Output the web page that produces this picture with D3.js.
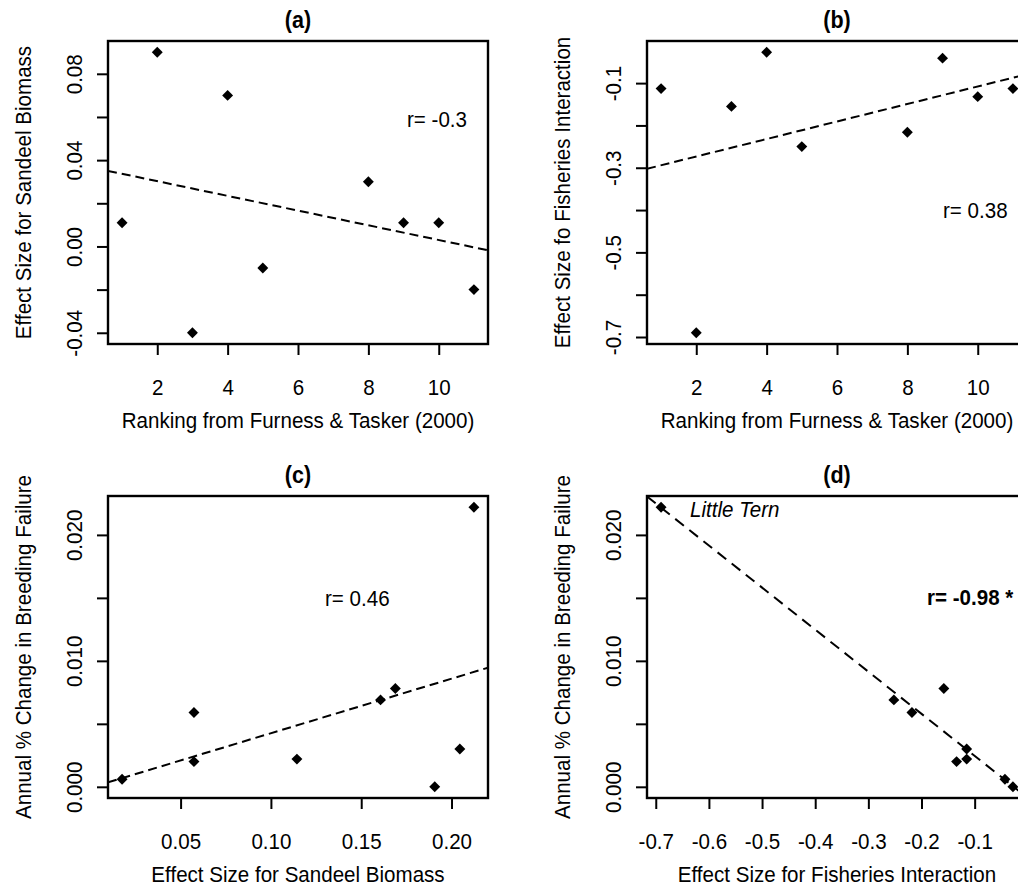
<!DOCTYPE html>
<html><head><meta charset="utf-8">
<script src="https://cdn.jsdelivr.net/npm/d3@7"></script>
<style>
html,body{margin:0;padding:0;background:#fff;}
svg{display:block;}
text{font-family:"Liberation Sans",Arial,Helvetica,sans-serif;fill:#000;}
</style></head><body>
<svg id="chart" width="1018" height="888"></svg>
<script>
// ---------- data ----------
const rankA = [1, 2, 3, 4, 5, 8, 9, 10, 11];
const sandeelA = [0.011, 0.09, -0.04, 0.07, -0.01, 0.03, 0.011, 0.011, -0.02];
const rankB = [1, 2, 3, 4, 5, 8, 9, 10, 11];
const fisheriesB = [-0.113, -0.690, -0.155, -0.027, -0.250, -0.216, -0.041, -0.132, -0.113];
const sandeelC = [0.0176, 0.0574, 0.0574, 0.1144, 0.1607, 0.1689, 0.1907, 0.2046, 0.2124];
const breedC = [0.0006, 0.0059, 0.0020, 0.0022, 0.0069, 0.0078, 0.0000, 0.0030, 0.0222];
const fisheriesD = [-0.690, -0.252, -0.218, -0.158, -0.134, -0.115, -0.115, -0.043, -0.028];
const breedD = [0.0222, 0.0069, 0.0059, 0.0078, 0.0020, 0.0030, 0.0022, 0.0006, 0.0000];

const panelTitles = ["(a)", "(b)", "(c)", "(d)"];
const xTitles = ["Ranking from Furness & Tasker (2000)", "Ranking from Furness & Tasker (2000)",
                 "Effect Size for Sandeel Biomass", "Effect Size for Fisheries Interaction"];
const yTitles = ["Effect Size for Sandeel Biomass", "Effect Size fo Fisheries Interaction",
                 "Annual % Change in Breeding Failure", "Annual % Change in Breeding Failure"];
const rLabels = ["r= -0.3", "r= 0.38", "r= 0.46", "r= -0.98 *"];
const pointLabel = "Little Tern";

const rankTicks = [2, 4, 6, 8, 10];
const sandeelATicks = [-0.04, -0.02, 0, 0.02, 0.04, 0.06, 0.08];
const sandeelALabels = [-0.04, 0, 0.04, 0.08];
const fisheriesYTicks = [-0.7, -0.6, -0.5, -0.4, -0.3, -0.2, -0.1];
const fisheriesYLabels = [-0.7, -0.5, -0.3, -0.1];
const sandeelCTicks = [0.05, 0.10, 0.15, 0.20];
const breedTicks = [0, 0.005, 0.010, 0.015, 0.020];
const breedLabels = [0, 0.010, 0.020];
const fisheriesXTicks = [-0.7, -0.6, -0.5, -0.4, -0.3, -0.2, -0.1];

// ---------- helpers ----------
const FS = 22;       // font size
const SX = 0.935;    // horizontal glyph squeeze (narrow face of original)
const svg = d3.select("#chart");
const fmt = p => d => d3.format(p)(d).replace("\u2212", "-");
const pad = arr => { const [lo, hi] = d3.extent(arr); const r = hi - lo; return [lo - 0.04 * r, hi + 0.04 * r]; };
const has = (list, v) => list.some(l => Math.abs(l - v) < 1e-9);

function label(sel, x, y, txt, opts = {}) {
  const t = sel.append("text")
    .attr("transform", `translate(${x},${y})${opts.rotate ? " rotate(-90)" : ""} scale(${SX},1)`)
    .attr("font-size", opts.size || FS)
    .attr("text-anchor", opts.anchor || "start")
    .text(txt);
  if (opts.bold) t.attr("font-weight", "bold");
  if (opts.italic) t.attr("font-style", "italic");
  return t;
}

function fit(xs, ys) {
  const mx = d3.mean(xs), my = d3.mean(ys);
  let sxy = 0, sxx = 0;
  xs.forEach((x, i) => { sxy += (x - mx) * (ys[i] - my); sxx += (x - mx) * (x - mx); });
  const b = sxy / sxx;
  return x => my + b * (x - mx);
}

function panel(o) {
  const {left, top, w, h, xs, ys, xTicks, xFmt, yTicks, yLabels, yFmt, idx, dash} = o;
  const x = d3.scaleLinear().domain(pad(xs)).range([left, left + w]);
  const y = d3.scaleLinear().domain(pad(ys)).range([top + h, top]);
  const g = svg.append("g");

  const clipId = "clip" + idx;
  svg.append("clipPath").attr("id", clipId)
    .append("rect").attr("x", left).attr("y", top).attr("width", w).attr("height", h);

  // x axis
  const xa = g.append("g").attr("transform", `translate(0,${top + h})`)
    .call(d3.axisBottom(x).tickValues(xTicks).tickFormat(xFmt).tickSize(11));
  xa.select(".domain").remove();
  xa.selectAll(".tick line").attr("stroke", "#000").attr("stroke-width", 2);
  xa.selectAll(".tick text").attr("x", 0).attr("y", 0).attr("dy", null)
    .attr("transform", `translate(0,51) scale(${SX},1)`)
    .attr("font-size", FS).attr("font-family", null).attr("fill", "#000");

  // y axis
  const ya = g.append("g").attr("transform", `translate(${left},0)`)
    .call(d3.axisLeft(y).tickValues(yTicks)
      .tickFormat(d => has(yLabels, d) ? yFmt(d) : "").tickSize(11));
  ya.select(".domain").remove();
  ya.selectAll(".tick line").attr("stroke", "#000").attr("stroke-width", 2);
  ya.selectAll(".tick text").attr("x", 0).attr("y", 0).attr("dy", null)
    .attr("text-anchor", "middle").attr("transform", `translate(-26,0) rotate(-90) scale(${SX},1)`)
    .attr("font-size", FS).attr("font-family", null).attr("fill", "#000");

  // regression line
  const f = fit(xs, ys);
  const [d0, d1] = x.domain();
  g.append("line").attr("clip-path", `url(#${clipId})`)
    .attr("x1", x(d0)).attr("y1", y(f(d0))).attr("x2", x(d1)).attr("y2", y(f(d1)))
    .attr("stroke", "#000").attr("stroke-width", 2).attr("stroke-dasharray", dash);

  // points
  const sym = d3.symbol().type(d3.symbolDiamond2).size(76);
  g.selectAll("path.pt").data(xs.map((v, i) => [v, ys[i]])).join("path")
    .attr("class", "pt").attr("d", sym)
    .attr("transform", d => `translate(${x(d[0])},${y(d[1])})`)
    .attr("fill", "#000");

  // box
  g.append("rect").attr("x", left).attr("y", top).attr("width", w).attr("height", h)
    .attr("fill", "none").attr("stroke", "#000").attr("stroke-width", 2.4);

  // titles
  label(g, left + w / 2, top - 13, panelTitles[idx], {anchor: "middle", bold: true, size: 23});
  label(g, left + w / 2, top + h + 84, xTitles[idx], {anchor: "middle"});
  label(g, left - 77, top + h / 2, yTitles[idx], {anchor: "middle", rotate: true});
  return {g, x, y};
}

const W = 380, H = 303;
const pa = panel({left: 108, top: 41, w: W, h: H, xs: rankA, ys: sandeelA, xTicks: rankTicks, xFmt: d3.format("d"),
  yTicks: sandeelATicks, yLabels: sandeelALabels, yFmt: fmt(".2f"), idx: 0, dash: "9,5"});
const pb = panel({left: 647, top: 41, w: W, h: H, xs: rankB, ys: fisheriesB, xTicks: rankTicks, xFmt: d3.format("d"),
  yTicks: fisheriesYTicks, yLabels: fisheriesYLabels, yFmt: fmt(".1f"), idx: 1, dash: "9,5"});
const pc = panel({left: 108, top: 496, w: W, h: 302, xs: sandeelC, ys: breedC, xTicks: sandeelCTicks, xFmt: fmt(".2f"),
  yTicks: breedTicks, yLabels: breedLabels, yFmt: fmt(".3f"), idx: 2, dash: "9,5"});
const pd = panel({left: 647, top: 496, w: W, h: 302, xs: fisheriesD, ys: breedD, xTicks: fisheriesXTicks, xFmt: fmt(".1f"),
  yTicks: breedTicks, yLabels: breedLabels, yFmt: fmt(".3f"), idx: 3, dash: "11,7"});

// annotations
label(pa.g, 407, 127, rLabels[0]);
label(pb.g, 943, 218, rLabels[1]);
label(pc.g, 325, 606, rLabels[2]);
label(pd.g, 927, 605, rLabels[3], {bold: true});
label(pd.g, 690, 517, pointLabel, {italic: true});
</script>
</body></html>
